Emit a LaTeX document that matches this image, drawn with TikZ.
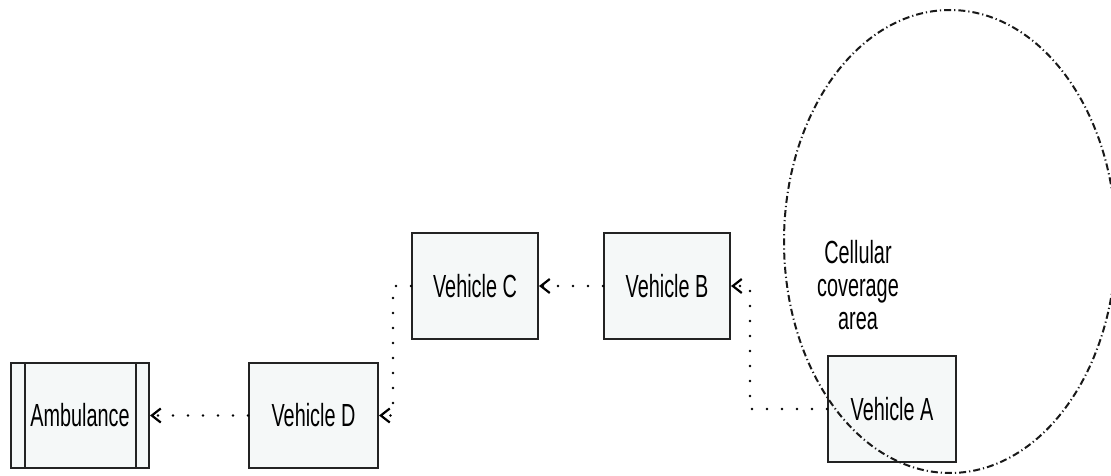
\documentclass[tikz,border=0pt]{standalone}
\usepackage{fontspec}
\setmainfont[FakeStretch=0.62]{Liberation Sans}
\usetikzlibrary{arrows.meta}
\definecolor{boxfill}{RGB}{245,248,248}
\definecolor{boxline}{RGB}{35,35,35}
\tikzset{
  vbox/.style={draw=boxline, fill=boxfill, line width=2pt, inner sep=0pt,
    font=\fontsize{32}{34}\selectfont, text=black},
  link/.style={line width=2.8pt, line cap=round, dash pattern=on 0pt off 15pt,
    -{Straight Barb[length=9pt,width=14pt,line width=2.2pt 0]}},
  zone/.style={line width=2pt, dash pattern=on 7pt off 3pt on 1.2pt off 3pt, draw=black!90}
}
\begin{document}
\begin{tikzpicture}[x=1pt,y=-1pt]
\useasboundingbox (0,0) rectangle (1111,476);
\node[vbox, minimum width=138pt, minimum height=105pt] (amb) at (80,415.5) {Ambulance};
\draw[boxline, line width=2pt] ([xshift=14.5pt]amb.north west) -- ([xshift=14.5pt]amb.south west);
\draw[boxline, line width=2pt] ([xshift=-14.5pt]amb.north east) -- ([xshift=-14.5pt]amb.south east);
\node[vbox, minimum width=129pt, minimum height=105pt] (D) at (313.5,415.5) {Vehicle D};
\node[vbox, minimum width=126pt, minimum height=106pt] (C) at (475,286) {Vehicle C};
\node[vbox, minimum width=126pt, minimum height=106pt] (B) at (667,286) {Vehicle B};
\node[vbox, minimum width=128pt, minimum height=106pt] (A) at (892,409) {Vehicle A};
\node[font=\fontsize{32}{33}\selectfont, align=center, inner sep=0pt] (cov) at (858,285) {Cellular\\coverage\\area};
\coordinate (ab) at (750,286);
\coordinate (cd) at (393,286);
\draw[link] (B.west) -- (C.east);
\draw[link] (A.west) -| (ab) -- (B.east);
\draw[link] (C.west) -- (cd) |- (D.east);
\draw[link] (D.west) -- (amb.east);
\draw[zone] (950,241.5) ellipse [x radius=166, y radius=231.5];
\end{tikzpicture}
\end{document}
